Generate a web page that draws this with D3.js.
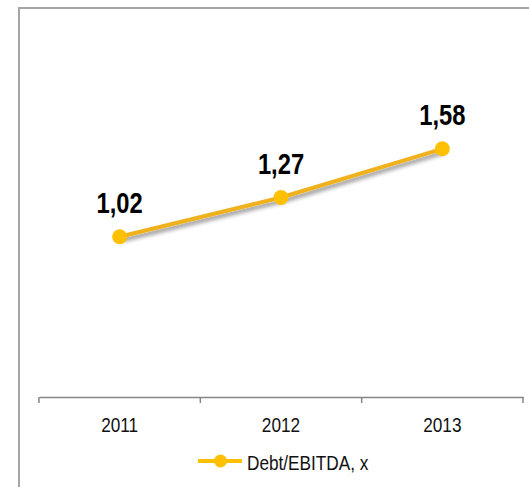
<!DOCTYPE html>
<html>
<head>
<meta charset="utf-8">
<script src="https://cdn.jsdelivr.net/npm/d3@7"></script>
<style>
  body { margin: 0; background: #fff; }
  svg { display: block; }
  text { font-family: "Liberation Sans", Arial, sans-serif; }
</style>
</head>
<body>
<svg id="chart" width="529" height="487"></svg>
<script>
const years = ["2011", "2012", "2013"];
const ratio = [1.02, 1.27, 1.58];
const labels = ["1,02", "1,27", "1,58"];
const seriesName = "Debt/EBITDA, x";

// no narrow font installed, so squeeze text horizontally
const narrow = 0.82;

const svg = d3.select("#chart");

// outer frame (cut off on right and bottom)
svg.append("path")
    .attr("d", "M19,540V8H540")
    .attr("fill", "none")
    .attr("stroke", "#a6a6a6")
    .attr("stroke-width", 2);

const x = d3.scaleBand().domain(years).range([39, 523]);
const y = d3.scaleLinear().domain([0, 2.4]).range([397, 20]);

const f = svg.append("defs").append("filter").attr("id", "shadow")
    .attr("x", "-20%").attr("y", "-50%").attr("width", "140%").attr("height", "200%");
f.append("feDropShadow")
    .attr("dx", 2).attr("dy", 3).attr("stdDeviation", 2)
    .attr("flood-color", "#000").attr("flood-opacity", 0.45);

// x axis
const axis = svg.append("g")
    .attr("transform", "translate(0,397)")
    .call(d3.axisBottom(x).tickSize(0).tickPadding(20))
    .call(g => g.select(".domain").attr("stroke", "#868686").attr("stroke-width", 1.5))
    .call(g => g.selectAll("text")
        .attr("font-size", 21).attr("fill", "#111")
        .attr("font-family", "'Liberation Sans', Arial, sans-serif")
        .attr("transform", `scale(${narrow},1)`));

// tick marks at band edges
const edges = years.map(d => x(d)).concat([x.range()[1]]);
axis.selectAll(".edge").data(edges).join("line")
    .attr("x1", d => d).attr("x2", d => d)
    .attr("y1", 0).attr("y2", 6)
    .attr("stroke", "#868686").attr("stroke-width", 1.5);

const cx = d => x(d) + x.bandwidth() / 2;
const data = years.map((d, i) => ({year: d, v: ratio[i], label: labels[i]}));

const line = d3.line().x(d => cx(d.year)).y(d => y(d.v));

svg.append("path")
    .datum(data)
    .attr("d", line)
    .attr("fill", "none")
    .attr("stroke", "#f0b21e")
    .attr("stroke-width", 4)
    .attr("filter", "url(#shadow)");

svg.selectAll(".pt").data(data).join("circle")
    .attr("cx", d => cx(d.year))
    .attr("cy", d => y(d.v))
    .attr("r", 7.5)
    .attr("fill", "#ffc000");

svg.selectAll(".lbl").data(data).join("text")
    .attr("transform", d => `translate(${cx(d.year)},${y(d.v) - 24}) scale(${narrow},1)`)
    .attr("text-anchor", "middle")
    .attr("font-size", 29)
    .attr("font-weight", "bold")
    .attr("fill", "#000")
    .text(d => d.label);

// legend
const lg = svg.append("g").attr("transform", "translate(198,461)");
lg.append("line").attr("x1", 0).attr("x2", 44).attr("y1", 0).attr("y2", 0)
    .attr("stroke", "#ffc000").attr("stroke-width", 4);
lg.append("circle").attr("cx", 22.5).attr("cy", 0).attr("r", 6.5).attr("fill", "#ffc000");
lg.append("text")
    .attr("transform", `translate(49,9) scale(${narrow},1)`)
    .attr("font-size", 21).attr("fill", "#111")
    .text(seriesName);
</script>
</body>
</html>
